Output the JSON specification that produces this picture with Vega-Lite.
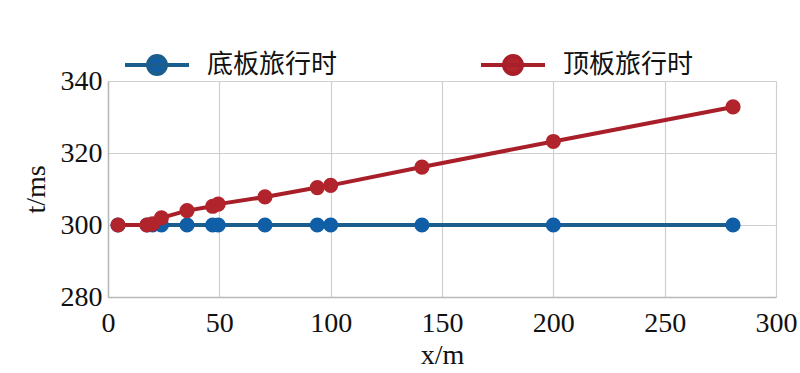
{
  "$schema": "https://vega.github.io/schema/vega-lite/v6.json",
  "width": 668,
  "height": 216,
  "autosize": {"type": "none"},
  "padding": {"left": 108, "top": 81, "right": 24, "bottom": 76},
  "background": "white",
  "config": {
    "view": {"stroke": null},
    "axis": {
      "labelFont": "Liberation Serif",
      "titleFont": "Liberation Serif",
      "labelFontSize": 28,
      "titleFontSize": 28,
      "labelColor": "#111",
      "titleColor": "#111",
      "titleFontWeight": "normal",
      "gridColor": "#cfcfcf",
      "gridWidth": 1.2,
      "domainColor": "#b8b8b8",
      "domainWidth": 1.5,
      "ticks": false
    }
  },
  "data": {
    "values": [
      {"x": 4.5, "t": 300, "s": "底板旅行时"},
      {"x": 17.5, "t": 300, "s": "底板旅行时"},
      {"x": 20, "t": 300, "s": "底板旅行时"},
      {"x": 24, "t": 300, "s": "底板旅行时"},
      {"x": 35.5, "t": 300, "s": "底板旅行时"},
      {"x": 47, "t": 300, "s": "底板旅行时"},
      {"x": 49.5, "t": 300, "s": "底板旅行时"},
      {"x": 70.5, "t": 300, "s": "底板旅行时"},
      {"x": 94, "t": 300, "s": "底板旅行时"},
      {"x": 100, "t": 300, "s": "底板旅行时"},
      {"x": 141, "t": 300, "s": "底板旅行时"},
      {"x": 200, "t": 300, "s": "底板旅行时"},
      {"x": 280.7, "t": 300, "s": "底板旅行时"},
      {"x": 4.5, "t": 300, "s": "顶板旅行时"},
      {"x": 17.5, "t": 300, "s": "顶板旅行时"},
      {"x": 20, "t": 300.3, "s": "顶板旅行时"},
      {"x": 24, "t": 302, "s": "顶板旅行时"},
      {"x": 35.5, "t": 304, "s": "顶板旅行时"},
      {"x": 47, "t": 305.2, "s": "顶板旅行时"},
      {"x": 49.5, "t": 305.8, "s": "顶板旅行时"},
      {"x": 70.5, "t": 307.8, "s": "顶板旅行时"},
      {"x": 94, "t": 310.4, "s": "顶板旅行时"},
      {"x": 100, "t": 311, "s": "顶板旅行时"},
      {"x": 141, "t": 316.1, "s": "顶板旅行时"},
      {"x": 200, "t": 323.2, "s": "顶板旅行时"},
      {"x": 280.7, "t": 332.8, "s": "顶板旅行时"}
    ]
  },
  "encoding": {
    "x": {
      "field": "x", "type": "quantitative",
      "scale": {"domain": [0, 300], "nice": false, "zero": false},
      "axis": {"values": [0, 50, 100, 150, 200, 250, 300], "labelPadding": 12, "title": "x/m", "titlePadding": 4, "labelFlush": false}
    },
    "y": {
      "field": "t", "type": "quantitative",
      "scale": {"domain": [280, 340], "nice": false, "zero": false},
      "axis": {"values": [280, 300, 320, 340], "labelPadding": 6, "title": "t/ms", "titlePadding": 10}
    }
  },
  "layer": [
    {
      "mark": {"type": "line", "strokeWidth": 4},
      "encoding": {
        "color": {
          "field": "s", "type": "nominal",
          "scale": {"domain": ["底板旅行时", "顶板旅行时"], "range": ["#1b5d8c", "#a91f29"]},
          "legend": {
            "title": null,
            "orient": "none",
            "legendX": 15,
            "legendY": -50,
            "direction": "horizontal",
            "columnPadding": 135,
            "symbolType": "M-1,0H1M0.28,0A0.28,0.28 0 1,1 -0.28,0A0.28,0.28 0 1,1 0.28,0Z",
            "symbolSize": 4096,
            "symbolStrokeWidth": 4,
            "labelFont": "Noto Sans CJK SC",
            "labelFontSize": 26,
            "labelColor": "#111",
            "labelOffset": 16,
            "labelLimit": 400,
            "encode": {
              "symbols": {"update": {"fill": {"scale": "color", "field": "value"}}}
            }
          }
        }
      }
    },
    {
      "mark": {"type": "point", "filled": true, "size": 230, "opacity": 1},
      "encoding": {
        "fill": {
          "field": "s", "type": "nominal",
          "scale": {"domain": ["底板旅行时", "顶板旅行时"], "range": ["#0f5ea6", "#b2242c"]},
          "legend": null
        }
      }
    }
  ]
}
